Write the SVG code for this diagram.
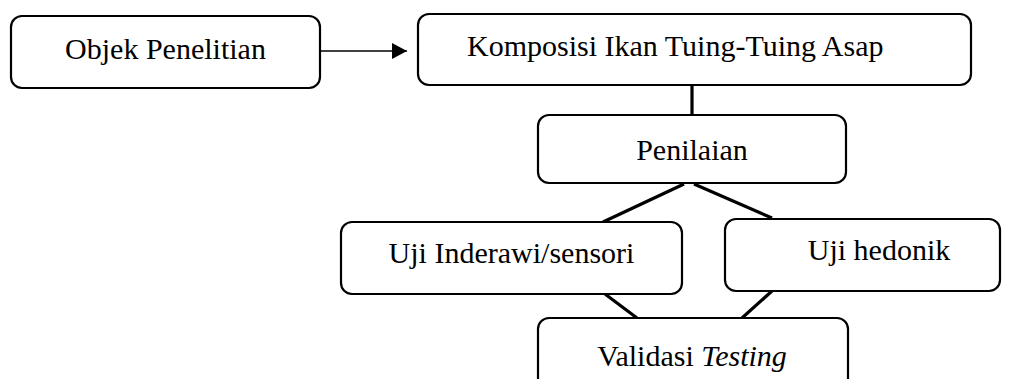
<svg xmlns="http://www.w3.org/2000/svg" width="1032" height="379" viewBox="0 0 1032 379">
<style>
.box{fill:#fff;stroke:#000;stroke-width:2.2}
.t{font-family:"Liberation Serif","Times New Roman",serif;font-size:30px;fill:#000}
.c{stroke:#000;stroke-width:3.2;fill:none}
.a{stroke:#000;stroke-width:1.3;fill:none}
</style>
<defs>
<marker id="ah" markerWidth="16" markerHeight="16" refX="15" refY="8" orient="auto" markerUnits="userSpaceOnUse">
<path d="M0,0 L15,8 L0,16 Z" fill="#000"/>
</marker>
</defs>
<rect width="1032" height="379" fill="#fff"/>
<g id="connectors">
<line class="a" x1="320" y1="51" x2="407" y2="51" marker-end="url(#ah)"/>
<line class="c" x1="692" y1="85" x2="692" y2="115"/>
<line class="c" x1="684" y1="184" x2="603" y2="222"/>
<line class="c" x1="694" y1="184" x2="772" y2="218"/>
<line class="c" x1="605" y1="294" x2="637" y2="318"/>
<line class="c" x1="772" y1="291" x2="742" y2="318"/>
</g>
<g id="objek">
<rect class="box" x="11" y="16" width="309" height="72" rx="11"/>
<text class="t" x="165.5" y="59" text-anchor="middle">Objek Penelitian</text>
</g>
<g id="komposisi">
<rect class="box" x="418" y="14" width="553" height="71" rx="11"/>
<text class="t" x="467" y="56">Komposisi Ikan Tuing-Tuing Asap</text>
</g>
<g id="penilaian">
<rect class="box" x="538" y="115" width="308" height="68" rx="11"/>
<text class="t" x="692" y="160" text-anchor="middle">Penilaian</text>
</g>
<g id="inderawi">
<rect class="box" x="341" y="222" width="341" height="72" rx="11"/>
<text class="t" x="511.5" y="263" text-anchor="middle">Uji Inderawi/sensori</text>
</g>
<g id="hedonik">
<rect class="box" x="725" y="219" width="275" height="72" rx="11"/>
<text class="t" x="879" y="260" text-anchor="middle">Uji hedonik</text>
</g>
<g id="validasi">
<rect class="box" x="538" y="318" width="310" height="80" rx="11"/>
<text class="t" x="692" y="366" text-anchor="middle">Validasi <tspan font-style="italic">Testing</tspan></text>
</g>
</svg>
